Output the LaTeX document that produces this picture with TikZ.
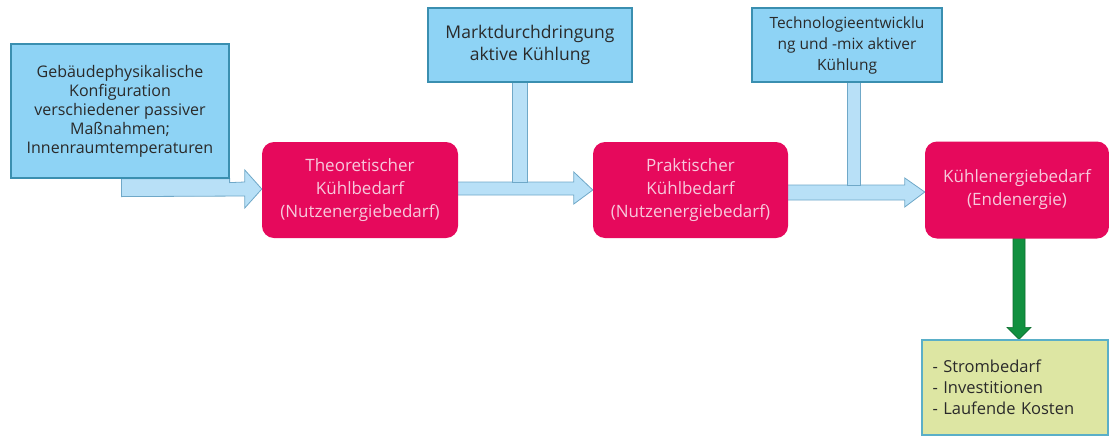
\documentclass[tikz,border=0pt]{standalone}
\usepackage{fontspec}
\setmainfont{Open Sans}
\usetikzlibrary{calc,backgrounds}
\definecolor{boxblue}{HTML}{8ED3F5}
\definecolor{boxblueline}{HTML}{3A8FB0}
\definecolor{arrblue}{HTML}{B8E0F7}
\definecolor{arrblueline}{HTML}{6FA8C8}
\definecolor{redbox}{HTML}{E6095C}
\definecolor{redtext}{HTML}{F7C9DC}
\definecolor{greenarr}{HTML}{11903F}
\definecolor{greenarrline}{HTML}{0B6E2E}
\definecolor{greenbox}{HTML}{DDE6A3}
\definecolor{greenboxline}{HTML}{5AAFC8}
\definecolor{txt}{HTML}{2A2A2A}
\tikzset{
  inbox/.style={draw=boxblueline, line width=1.2pt, fill=boxblue, text=txt,
    align=center, inner sep=0pt, font=\fontsize{16}{19}\selectfont},
  redstep/.style={draw=none, fill=redbox, rounded corners=12pt, text=redtext,
    align=center, inner sep=0pt, font=\fontsize{17}{23}\selectfont},
  outbox/.style={draw=greenboxline, line width=1.2pt, fill=greenbox, text=txt,
    align=left, inner sep=0pt, font=\fontsize{16.5}{21}\selectfont},
  blockarr/.style={draw=arrblueline, line width=0.8pt, fill=arrblue},
  greenblock/.style={draw=greenarrline, line width=0.6pt, fill=greenarr},
}
\begin{document}
\begin{tikzpicture}[x=1pt,y=-1pt]
\useasboundingbox (0,0) rectangle (1109,437);

\node[inbox, minimum width=218pt, minimum height=134pt] (phys) at (120,111)
  {Gebäudephysikalische\\Konfiguration\\verschiedener passiver\\Maßnahmen;\\Innenraumtemperaturen};
\node[inbox, minimum width=204pt, minimum height=74pt, font=\fontsize{17.5}{22}\selectfont] (markt) at (530,45)
  {Marktdurchdringung\\aktive Kühlung};
\node[inbox, minimum width=190pt, minimum height=74pt, inner sep=0pt, font=\fontsize{15.5}{21}\selectfont] (tech) at (847,45)
  {\raisebox{-3pt}{\parbox{188pt}{\centering Technologieentwicklu\\ng und -mix aktiver\\Kühlung}}};
\node[redstep, minimum width=196pt, minimum height=96pt] (theo) at (360,190)
  {Theoretischer\\Kühlbedarf\\(Nutzenergiebedarf)};
\node[redstep, minimum width=195pt, minimum height=96pt] (prak) at (690.5,190)
  {Praktischer\\Kühlbedarf\\(Nutzenergiebedarf)};
\node[redstep, minimum width=184pt, minimum height=97pt] (end) at (1017,190)
  {Kühlenergiebedarf\\(Endenergie)};
\node[outbox, minimum width=186pt, minimum height=95pt, text width=165pt] (out) at (1015,387.5)
  {- Strombedarf\\- Investitionen\\- Laufende Kosten};

\begin{scope}[on background layer]
% block arrow 1 : phys -> theo
\draw[blockarr]
  ($(phys.south west)+(111,0)$) -- ($(phys.south west)+(111,18)$)
  -- ($(theo.west)+(-17,6)$) -- ($(theo.west)+(-17,18)$) -- ($(theo.west)+(0,-1)$)
  -- ($(theo.west)+(-17,-20)$) -- ($(theo.west)+(-17,-8)$)
  -- ($(phys.south east)+(0,4)$) -- (phys.south east) -- cycle;

% block arrow 2 : theo -> prak
\draw[blockarr]
  ($(theo.east)+(-5,-8)$) -- ($(prak.west)+(-19,-8)$) -- ($(prak.west)+(-19,-18)$)
  -- (prak.west) -- ($(prak.west)+(-19,14)$) -- ($(prak.west)+(-19,5)$)
  -- ($(theo.east)+(-5,5)$) -- cycle;
% block arrow 3 : prak -> end
\draw[blockarr]
  ($(prak.east)+(-5,-5)$) -- ($(end.west)+(-20,-5)$) -- ($(end.west)+(-20,-12)$)
  -- ($(end.west)+(0,2)$) -- ($(end.west)+(-20,17)$) -- ($(end.west)+(-20,10)$)
  -- ($(prak.east)+(-5,10)$) -- cycle;
% stems
\draw[blockarr] ($(markt.south)+(-18,-2)$) rectangle ($(markt.south)+(-3,100)$);
\draw[blockarr] ($(tech.south)+(0,-2)$) rectangle ($(tech.south)+(13,103)$);

% green arrow : end -> out
\coordinate (gtop) at ($(end.south)+(2,-2)$);
\coordinate (gtip) at (gtop |- out.north);
\draw[greenblock]
  ($(gtop)+(-6,0)$) -- ($(gtip)+(-6,-12)$) -- ($(gtip)+(-12,-12)$)
  -- (gtip) -- ($(gtip)+(12,-12)$) -- ($(gtip)+(6,-12)$)
  -- ($(gtop)+(6,0)$) -- cycle;
\end{scope}
\end{tikzpicture}
\end{document}
